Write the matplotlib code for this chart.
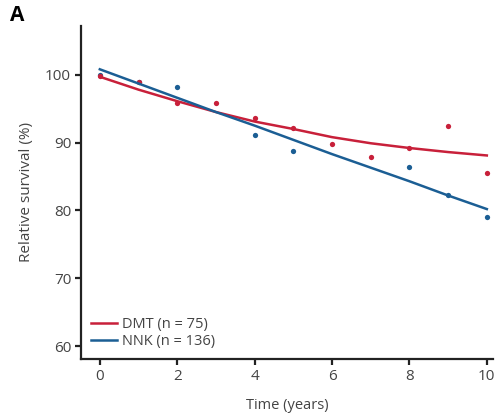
import numpy as np
import matplotlib
matplotlib.use("Agg")
import matplotlib.pyplot as plt

plt.rcParams['font.family'] = ['Open Sans', 'DejaVu Sans']

# observed relative survival (%) by year
dmt_years = [0, 1, 2, 3, 4, 5, 6, 7, 8, 9, 10]
dmt_surv = [99.8, 98.9, 95.9, 95.9, 93.6, 92.2, 89.8, 87.9, 89.2, 92.5, 85.5]

nnk_years = [0, 1, 2, 4, 5, 8, 9, 10]
nnk_surv = [100.0, 98.9, 98.2, 91.1, 88.8, 86.4, 82.3, 79.0]

# fitted curves, read at each year
fit_years = [0, 1, 2, 3, 4, 5, 6, 7, 8, 9, 10]
dmt_fit = [99.7, 97.8, 96.1, 94.5, 93.1, 92.0, 90.8, 89.9, 89.2, 88.6, 88.1]
nnk_fit = [100.8, 98.7, 96.6, 94.5, 92.5, 90.4, 88.3, 86.3, 84.3, 82.2, 80.2]

red = '#C8203A'
blue = '#1B5E94'

fig = plt.figure(figsize=(4.96, 4.17), dpi=100)
ax = fig.add_axes([0.163, 0.139, 0.831, 0.799])

ax.plot(nnk_years, nnk_surv, 'o', color=blue, ms=3.8, mec='none', zorder=2)
ax.plot(dmt_years, dmt_surv, 'o', color=red, ms=3.8, mec='none', zorder=3)
ax.plot(fit_years, dmt_fit, color=red, lw=1.8, label='DMT (n = 75)', zorder=4)
ax.plot(fit_years, nnk_fit, color=blue, lw=1.8, label='NNK (n = 136)', zorder=5)

ax.set_xlim(-0.49, 10.16)
ax.set_ylim(58.1, 107.2)
ax.set_xticks([0, 2, 4, 6, 8, 10])
ax.set_yticks([60, 70, 80, 90, 100])

for s in ['top', 'right']:
    ax.spines[s].set_visible(False)
for s in ['left', 'bottom']:
    ax.spines[s].set_linewidth(1.6)
    ax.spines[s].set_color('#222222')
ax.tick_params(direction='out', length=4, width=1.6, color='#222222',
               labelsize=11, labelcolor='#444444', pad=3)

ax.set_xlabel('Time (years)', fontsize=10.5, color='#444444', labelpad=10)
ax.set_ylabel('Relative survival (%)', fontsize=11, color='#444444', labelpad=8)

ax.legend(loc='lower left', frameon=False, fontsize=10.5, handlelength=1.8,
          handletextpad=0.3, labelspacing=0.1, borderaxespad=0.3,
          labelcolor='#444444')

fig.text(0.02, 0.962, 'A', fontsize=15, fontweight='bold', va='center')

fig.savefig('out.png', dpi=100)
